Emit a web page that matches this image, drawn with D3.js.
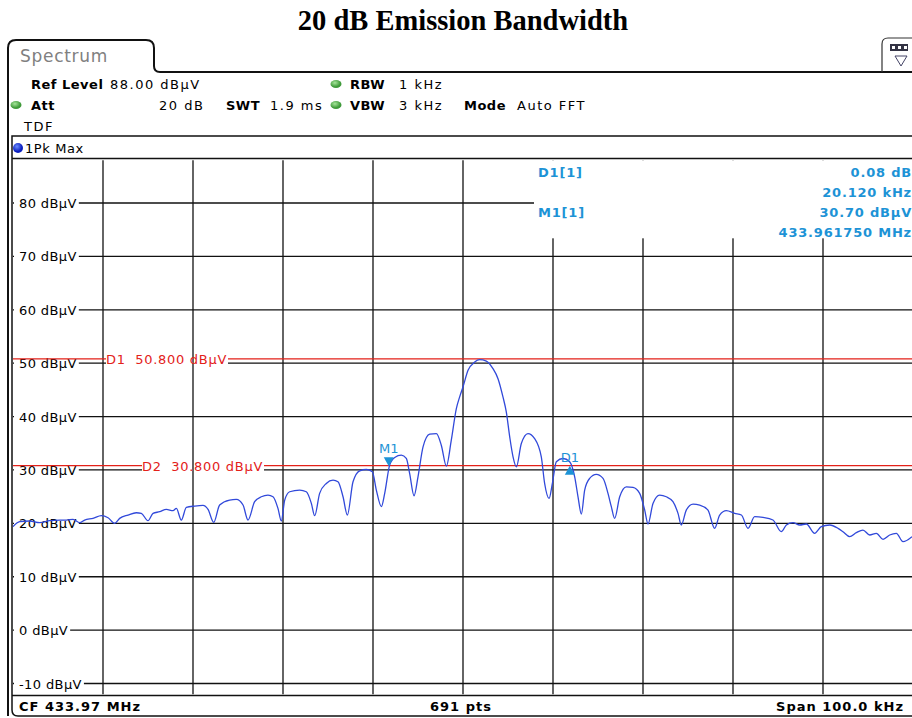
<!DOCTYPE html>
<html><head><meta charset="utf-8">
<script src="https://cdn.jsdelivr.net/npm/d3@7"></script>
<style>
body{margin:0;background:#fff;}
svg text{font-family:"DejaVu Sans",Verdana,sans-serif;}
</style></head>
<body><svg id="c" width="912" height="718"></svg>
<script>
// ---- data ----
const title = "20 dB Emission Bandwidth";
const centerMHz = 433.97;
const spanKHz = 100;
const refLevel = 88;
const yTicks = [80,70,60,50,40,30,20,10,0,-10];
const xGridKHz = [-40,-30,-20,-10,0,10,20,30,40];
// trace: frequency offset from CF (kHz) and level (dBµV)
const traceKHz = [-50.0,-49.26,-48.15,-47.04,-45.93,-44.81,-44.07,-43.33,-42.59,-42.04,-41.11,-40.19,-39.44,-38.70,-38.15,-37.22,-36.30,-35.74,-35.0,-34.44,-33.70,-32.96,-32.22,-31.85,-31.30,-30.74,-29.81,-28.89,-28.33,-27.70,-27.04,-25.93,-25.19,-24.44,-23.89,-23.15,-22.41,-21.67,-21.11,-20.56,-20.19,-19.81,-19.26,-18.15,-17.41,-16.85,-16.48,-15.93,-15.19,-14.44,-13.89,-13.33,-12.85,-12.22,-11.48,-10.74,-10.07,-9.63,-9.07,-8.70,-8.15,-7.59,-6.85,-6.30,-5.93,-5.44,-5.0,-4.44,-3.70,-2.96,-2.41,-1.85,-1.30,-0.74,-0.37,
 0,0.56,1.30,1.85,2.59,3.33,3.89,4.44,4.81,5.19,5.56,5.93,6.48,7.22,7.96,8.70,9.07,9.56,9.93,10.37,11.11,11.85,12.41,12.78,13.15,13.52,14.07,14.81,15.56,16.11,16.48,16.85,17.41,18.15,18.89,19.63,20.19,20.56,21.11,21.85,22.59,23.33,23.89,24.26,24.81,25.56,26.30,27.22,27.96,28.52,29.26,30.19,30.93,31.67,32.41,33.33,34.44,35.37,35.93,36.67,37.41,38.15,39.07,39.81,40.74,41.67,42.22,42.96,43.70,44.44,45.19,45.93,46.67,47.41,48.15,48.89,49.89];
const traceDB = [19.38,20.31,20.44,20.12,20.50,20.62,20.62,20.75,20.12,20.62,20.93,21.43,21.06,20.0,20.93,21.56,21.99,21.87,20.50,21.87,22.18,22.62,22.37,22.80,20.62,22.99,23.24,23.36,22.62,20.19,23.43,24.36,24.49,23.43,20.62,24.05,24.98,25.30,24.98,22.80,20.44,24.36,25.92,26.23,25.92,23.74,21.43,25.61,27.48,28.10,27.79,24.98,21.56,27.79,29.84,30.09,29.66,26.23,23.12,25.61,30.90,32.34,32.77,32.15,29.35,25.17,28.72,34.33,36.70,36.82,34.64,30.72,35.58,41.50,43.68,
 45.55,48.66,50.22,50.65,50.40,48.97,47.10,43.68,40.87,36.20,32.46,30.59,34.95,36.82,35.89,32.46,27.48,24.67,27.48,31.53,32.15,31.53,28.72,24.98,21.74,26.23,28.41,29.16,28.41,25.61,23.12,20.93,24.98,26.85,26.73,25.61,22.49,19.88,23.74,25.30,24.98,24.05,21.87,19.69,22.49,23.61,23.43,22.49,19.07,21.56,22.37,21.87,21.56,19.07,21.25,21.12,20.62,18.44,19.69,20.12,19.69,19.88,18.13,19.38,19.69,19.07,18.44,17.51,18.26,18.75,17.82,18.13,17.01,17.82,18.13,16.57,17.51];
const displayLines = [{name:"D1", level:50.8, label:"D1  50.800 dBµV", lx:106},{name:"D2", level:30.8, label:"D2  30.800 dBµV", lx:142}];
const markers = [{name:"M1", kHz:-8.25, level:30.70, dir:"down"},{name:"D1", kHz:11.87, level:30.78, dir:"up"}];
const infoLeft = ["D1[1]","","M1[1]",""];
const infoRight = ["0.08 dB","20.120 kHz","30.70 dBµV","433.961750 MHz"];
const bottomTexts = ["CF 433.97 MHz","691 pts","Span 100.0 kHz"];

// ---- layout ----
const svg = d3.select("#c");
const P = {l:13, r:913, t:160.3, b:694.2};
const x = d3.scaleLinear().domain([-spanKHz/2, spanKHz/2]).range([P.l, P.r]);
const y = d3.scaleLinear().domain([refLevel-100, refLevel]).range([P.b, P.t]);
const BLUE = "#1d93d6", RED = "#e32119", TRACE = "#3149da";

svg.append("text").attr("x",463).attr("y",30).attr("text-anchor","middle")
  .style("font-family","'Liberation Serif','Times New Roman',serif").style("font-weight","bold").style("font-size","28.5px").text(title);

// tab + frame
svg.append("path").attr("d","M8,716 L8,48 Q8,40 16,40 L146,40 Q154,40 154,48 L154,66 Q154,72 160,72 L912,72")
  .attr("fill","none").attr("stroke","#111").attr("stroke-width",2);
svg.append("text").attr("x",20).attr("y",62).attr("fill","#808080").style("font-size","17px").style("letter-spacing","0.7px").text("Spectrum");
// icon
svg.append("path").attr("d","M882,72 L882,44 Q882,38 888,38 L914,38").attr("fill","none").attr("stroke","#333").attr("stroke-width",1.2);
svg.append("rect").attr("x",890).attr("y",44).attr("width",18).attr("height",7).attr("fill","#334");
[892,898,904].forEach(v=>svg.append("rect").attr("x",v).attr("y",46).attr("width",3).attr("height",3).attr("fill","#fff"));
svg.append("path").attr("d","M895,56 L907,56 L901,66 Z").attr("fill","none").attr("stroke","#446").attr("stroke-width",1);

// header
const hdr = svg.append("g").style("font-size","13px");
function ht(tx,ty,s,bold){hdr.append("text").attr("x",tx).attr("y",ty).style("font-weight",bold?"bold":"normal").style("letter-spacing",bold?"0.5px":"1.5px").text(s);}
ht(31,89,"Ref Level",true); ht(110,89,"88.00 dBµV");
ht(31,110,"Att",true); ht(159,110,"20 dB"); ht(226,110,"SWT",true); ht(270,110,"1.9 ms");
ht(350,89,"RBW",true); ht(399,89,"1 kHz"); ht(350,110,"VBW",true); ht(399,110,"3 kHz");
ht(464,110,"Mode",true); ht(517,110,"Auto FFT");
ht(24,131,"TDF");
const grad = svg.append("defs").append("radialGradient").attr("id","gd").attr("cx","40%").attr("cy","35%");
grad.append("stop").attr("offset","0%").attr("stop-color","#a6e59a");
grad.append("stop").attr("offset","100%").attr("stop-color","#3f9a3a");
[[16,105],[336,84],[336,105]].forEach(p=>svg.append("ellipse").attr("cx",p[0]).attr("cy",p[1]).attr("rx",5.5).attr("ry",4).attr("fill","url(#gd)"));

// diagram box
svg.append("path").attr("d","M912,136 L12,136 L12,710 Q12,716 18,716 L912,716").attr("fill","none").attr("stroke","#111").attr("stroke-width",1.5);
svg.append("line").attr("x1",12).attr("x2",912).attr("y1",158.5).attr("y2",158.5).attr("stroke","#111").attr("stroke-width",1.5);
svg.append("line").attr("x1",12).attr("x2",912).attr("y1",695.5).attr("y2",695.5).attr("stroke","#111").attr("stroke-width",1.5);
const bg = svg.append("radialGradient").attr("id","bd").attr("cx","40%").attr("cy","35%");
bg.append("stop").attr("offset","0%").attr("stop-color","#6b8cff");
bg.append("stop").attr("offset","100%").attr("stop-color","#0b1fc0");
svg.append("circle").attr("cx",18).attr("cy",148).attr("r",5).attr("fill","url(#bd)");
svg.append("text").attr("x",25).attr("y",153).style("font-size","13px").style("letter-spacing","0.6px").text("1Pk Max");

// plot
const plot = svg.append("g");
// horizontal grid
plot.selectAll("line.h").data(yTicks).join("line").attr("class","h")
  .attr("x1",P.l).attr("x2",P.r).attr("y1",d=>y(d)).attr("y2",d=>y(d)).attr("stroke","#111").attr("stroke-width",1.3);
const bgLayer = plot.append("g");
// vertical grid
plot.selectAll("line.v").data(xGridKHz).join("line").attr("class","v")
  .attr("x1",d=>x(d)).attr("x2",d=>x(d)).attr("y1",P.t).attr("y2",P.b).attr("stroke","#111").attr("stroke-width",1.3);
// info box
plot.append("rect").attr("x",534).attr("y",P.t).attr("width",380).attr("height",78).attr("fill","#fff");

// y labels
const yl = plot.append("g").style("font-size","13px").style("letter-spacing","0.4px");
yTicks.forEach(t=>{
  const tx = yl.append("text").attr("x",19).attr("y",y(t)+5).text(t+" dBµV");
  const bb = tx.node().getBBox();
  bgLayer.append("rect").attr("x",P.l+1).attr("y",y(t)-3).attr("width",bb.x+bb.width-P.l+1).attr("height",6).attr("fill","#fff");
});
// display lines
displayLines.forEach(dl=>{
  const yy = y(dl.level);
  const tx = plot.append("text").attr("x",dl.lx).attr("y",yy+5).attr("fill",RED).style("font-size","13px").style("letter-spacing","0.7px").style("white-space","pre").text(dl.label);
  const bb = tx.node().getBBox();
  bgLayer.append("rect").attr("x",bb.x).attr("y",yy-2).attr("width",bb.width+1).attr("height",8).attr("fill","#fff");
  plot.append("line").attr("x1",P.l).attr("x2",bb.x).attr("y1",yy).attr("y2",yy).attr("stroke",RED).attr("stroke-width",1.3);
  plot.append("line").attr("x1",bb.x+bb.width+1).attr("x2",P.r).attr("y1",yy).attr("y2",yy).attr("stroke",RED).attr("stroke-width",1.3);
});

// trace
svg.append("clipPath").attr("id","cp").append("rect").attr("x",P.l).attr("y",P.t).attr("width",P.r-P.l).attr("height",P.b-P.t);
const pts = traceKHz.map((k,i)=>[k,traceDB[i]]);
plot.append("path").attr("clip-path","url(#cp)").attr("d",d3.line().x(d=>x(d[0])).y(d=>y(d[1])).curve(d3.curveMonotoneX)(pts))
  .attr("fill","none").attr("stroke",TRACE).attr("stroke-width",1.3);

// markers
markers.forEach(m=>{
  const mx = x(m.kHz), my = y(m.level);
  if(m.dir==="down"){
    plot.append("path").attr("d",`M${mx-5},${my-9} L${mx+5},${my-9} L${mx},${my} Z`).attr("fill",BLUE);
    plot.append("text").attr("x",mx).attr("y",my-13).attr("text-anchor","middle").attr("fill",BLUE).style("font-size","13px").text(m.name);
  } else {
    plot.append("path").attr("d",`M${mx-5},${my+9} L${mx+5},${my+9} L${mx},${my} Z`).attr("fill",BLUE);
    plot.append("text").attr("x",mx).attr("y",my-4).attr("text-anchor","middle").attr("fill",BLUE).style("font-size","13px").text(m.name);
  }
});

// info text
const inf = plot.append("g").style("font-size","13px").style("font-weight","bold").style("letter-spacing","0.8px").attr("fill",BLUE);
infoLeft.forEach((s,i)=>{ if(s) inf.append("text").attr("x",538).attr("y",177+i*20).text(s); });
infoRight.forEach((s,i)=>inf.append("text").attr("x",912).attr("y",177+i*20).attr("text-anchor","end").text(s));

// bottom bar
const bt = svg.append("g").style("font-size","13px").style("font-weight","bold").style("letter-spacing","1px");
bt.append("text").attr("x",19).attr("y",711).text(bottomTexts[0]);
bt.append("text").attr("x",461).attr("y",711).attr("text-anchor","middle").text(bottomTexts[1]);
bt.append("text").attr("x",904).attr("y",711).attr("text-anchor","end").text(bottomTexts[2]);
</script></body></html>
